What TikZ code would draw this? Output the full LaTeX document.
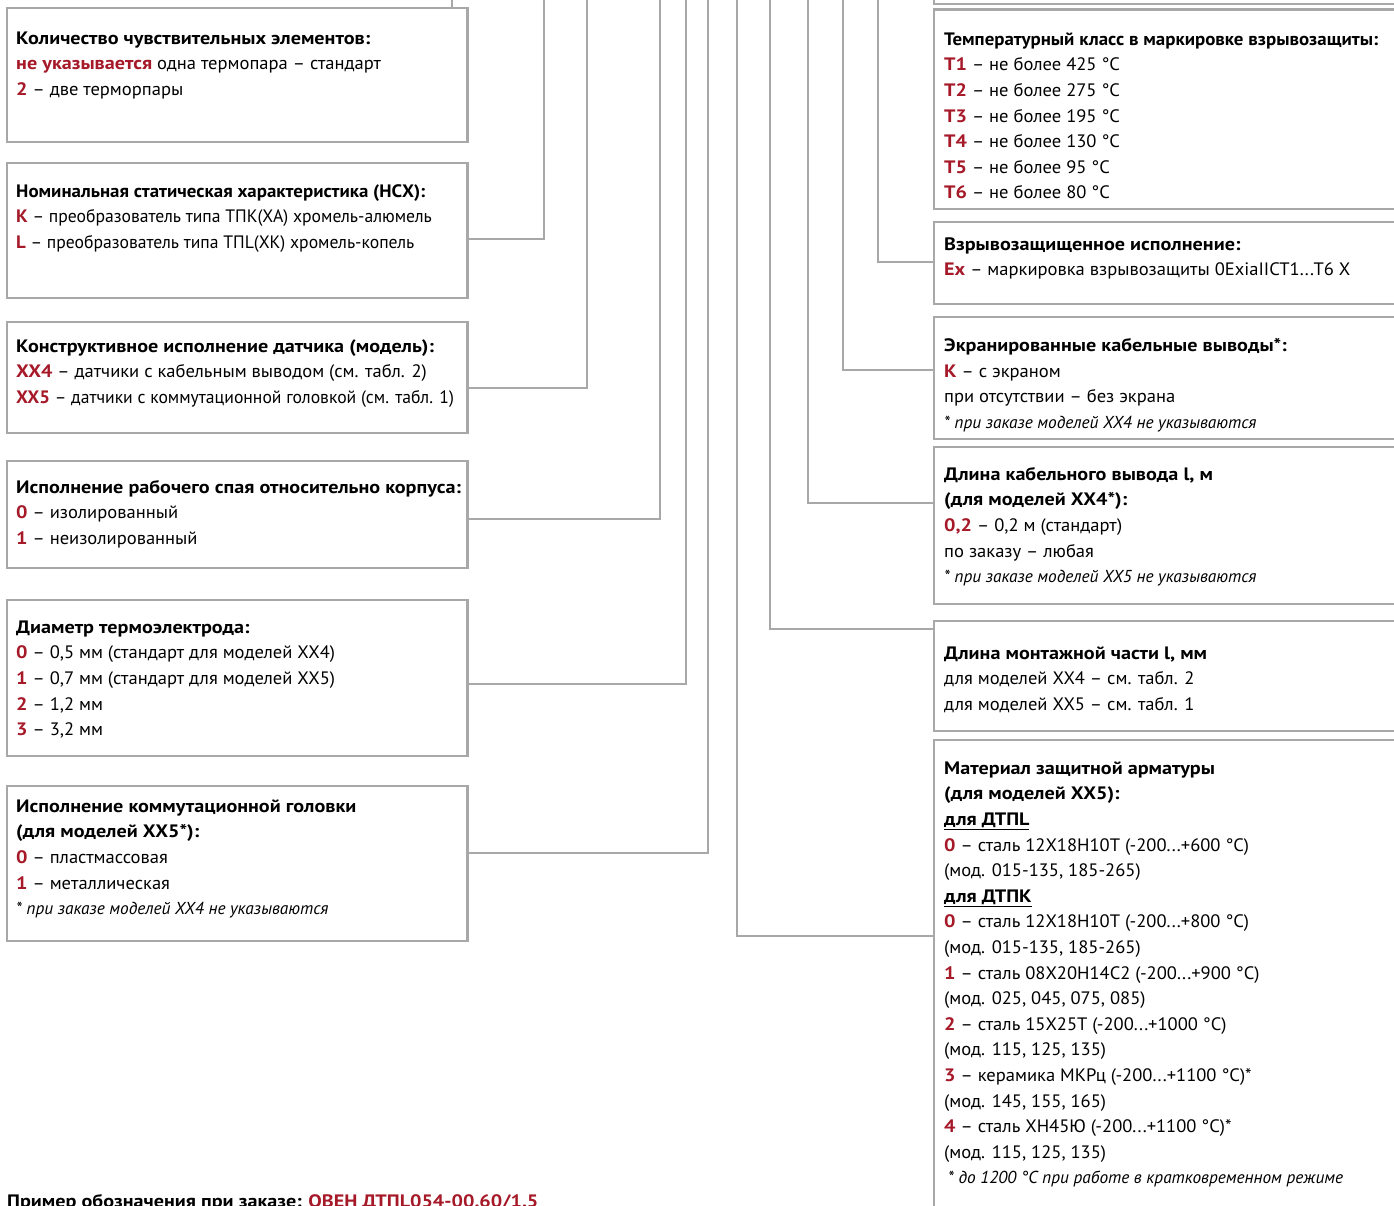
\documentclass[tikz,border=0pt]{standalone}
\usepackage{fontspec}
\setmainfont{PT Sans}[UprightFeatures={FakeStretch=1.03},
  BoldFeatures={FakeStretch=1.12}]
\newfontfamily\narrowfont{PT Sans}[UprightFeatures={FakeStretch=0.98},
  BoldFeatures={FakeStretch=1.05}]
\usetikzlibrary{positioning}

\definecolor{owenred}{RGB}{166,25,40}
\definecolor{framegray}{RGB}{168,168,168}

\newcommand{\code}[1]{\textcolor{owenred}{\textbf{#1}}}
\newcommand{\hint}[1]{{\fontsize{17.3}{20}\selectfont\itshape #1}}

\begin{document}
\begin{tikzpicture}[
  x=1pt, y=-1pt,
  box/.style={draw=framegray, line width=2.6pt, anchor=north west,
              inner sep=0pt, outer sep=0pt},
  wire/.style={draw=framegray, line width=2.4pt},
  txt/.style={anchor=north west, inner sep=0pt, align=left,
              font=\fontsize{18}{25.6}\selectfont}
]
  \useasboundingbox (0,0) rectangle (1394,1206);
  \coordinate (top) at (0,-10);

  % left column
  \node[box, minimum width=460.5pt, minimum height=134pt] (b1) at (7,8) {};
  \node[box, minimum width=460.5pt, minimum height=135pt] (b2) at (7,163) {};
  \node[box, minimum width=460.5pt, minimum height=111pt] (b3) at (7,322) {};
  \node[box, minimum width=460.5pt, minimum height=107pt] (b4) at (7,461) {};
  \node[box, minimum width=460.5pt, minimum height=156pt] (b5) at (7,600) {};
  \node[box, minimum width=460.5pt, minimum height=155pt] (b6) at (7,786) {};

  % right column
  \node[box, minimum width=486pt, minimum height=44pt] (r0) at (934,-40) {};
  \node[box, minimum width=486pt, minimum height=199.5pt] (r1) at (934,9.5) {};
  \node[box, minimum width=486pt, minimum height=82pt] (r2) at (934,222) {};
  \node[box, minimum width=486pt, minimum height=122pt] (r3) at (934,317) {};
  \node[box, minimum width=486pt, minimum height=157pt] (r4) at (934,447) {};
  \node[box, minimum width=486pt, minimum height=110pt] (r5) at (934,621) {};
  \node[box, minimum width=486pt, minimum height=490pt] (r6) at (934,740) {};

  % connectors
  \coordinate (k1) at (452,0);
  \coordinate (k2) at (544,239);
  \coordinate (k3) at (587,388);
  \coordinate (k4) at (660,519);
  \coordinate (k5) at (686,684);
  \coordinate (k6) at (708,853);
  \coordinate (m2) at (878,262);
  \coordinate (m3) at (843,370);
  \coordinate (m4) at (808,503);
  \coordinate (m5) at (770,629);
  \coordinate (m6) at (737,936);

  \draw[wire] (k1 |- top) -- (k1 |- b1.north);
  \foreach \k/\b in {k2/b2, k3/b3, k4/b4, k5/b5, k6/b6}
    \draw[wire] (\k -| \b.east) -- (\k) -- (\k |- top);
  \foreach \m/\r in {m2/r2, m3/r3, m4/r4, m5/r5, m6/r6}
    \draw[wire] (\m -| \r.west) -- (\m) -- (\m |- top);

  % texts, left
  \node[txt] (t1) at (16,26.1) {\strut\textbf{Количество чувствительных элементов:}\\
    \code{не указывается} одна термопара – стандарт\\
    \code{2} – две терморпары};
  \node[txt] (t2) at (16,179.1) {\strut{\narrowfont\textbf{Номинальная статическая характеристика (НСХ):}}\\
    {\narrowfont\code{K} – преобразователь типа ТПК(ХА) хромель-алюмель}\\
    {\narrowfont\code{L} – преобразователь типа ТПL(ХК) хромель-копель}};
  \node[txt] (t3) at (16,334.1) {\strut\textbf{Конструктивное исполнение датчика (модель):}\\
    \code{XX4} – датчики с кабельным выводом (см. табл. 2)\\
    {\narrowfont\code{XX5} – датчики с коммутационной головкой (см. табл. 1)}};
  \node[txt] (t4) at (16,475.1) {\strut\textbf{Исполнение рабочего спая относительно корпуса:}\\
    \code{0} – изолированный\\
    \code{1} – неизолированный};
  \node[txt] (t5) at (16,615.1) {\strut\textbf{Диаметр термоэлектрода:}\\
    \code{0} – 0,5 мм (стандарт для моделей ХХ4)\\
    \code{1} – 0,7 мм (стандарт для моделей ХХ5)\\
    \code{2} – 1,2 мм\\
    \code{3} – 3,2 мм};
  \node[txt] (t6) at (16,794.1) {\strut\textbf{Исполнение коммутационной головки}\\
    \textbf{(для моделей ХХ5*):}\\
    \code{0} – пластмассовая\\
    \code{1} – металлическая\\
    \hint{* при заказе моделей ХХ4 не указываются}};

  % texts, right
  \node[txt] (s1) at (944,27.1) {\strut{\narrowfont\textbf{Температурный класс в маркировке взрывозащиты:}}\\
    \code{T1} – не более 425 °C\\
    \code{T2} – не более 275 °C\\
    \code{T3} – не более 195 °C\\
    \code{T4} – не более 130 °C\\
    \code{T5} – не более 95 °C\\
    \code{T6} – не более 80 °C};
  \node[txt] (s2) at (944,232.1) {\strut\textbf{Взрывозащищенное исполнение:}\\
    \code{Ex} – маркировка взрывозащиты 0ExiaIICT1...T6 X};
  \node[txt] (s3) at (944,333.6) {\strut\textbf{Экранированные кабельные выводы*:}\\
    \code{K} – с экраном\\
    при отсутствии – без экрана\\
    \hint{* при заказе моделей ХХ4 не указываются}};
  \node[txt] (s4) at (944,462.1) {\strut\textbf{Длина кабельного вывода l, м}\\
    \textbf{(для моделей ХХ4*):}\\
    \code{0,2} – 0,2 м (стандарт)\\
    по заказу – любая\\
    \hint{* при заказе моделей ХХ5 не указываются}};
  \node[txt] (s5) at (944,641.1) {\strut\textbf{Длина монтажной части l, мм}\\
    для моделей ХХ4 – см. табл. 2\\
    для моделей ХХ5 – см. табл. 1};
  \node[txt] (s6) at (944,756.1) {\strut\textbf{Материал защитной арматуры}\\
    \textbf{(для моделей ХХ5):}\\
    \underline{\textbf{для ДТПL}}\\
    \code{0} – сталь 12Х18Н10Т (-200...+600 °C)\\
    (мод. 015-135, 185-265)\\
    \underline{\textbf{для ДТПК}}\\
    \code{0} – сталь 12Х18Н10Т (-200...+800 °C)\\
    (мод. 015-135, 185-265)\\
    \code{1} – сталь 08Х20Н14С2 (-200...+900 °C)\\
    (мод. 025, 045, 075, 085)\\
    \code{2} – сталь 15Х25Т (-200...+1000 °C)\\
    (мод. 115, 125, 135)\\
    \code{3} – керамика МКРц (-200...+1100 °C)*\\
    (мод. 145, 155, 165)\\
    \code{4} – сталь ХН45Ю (-200...+1100 °C)*\\
    (мод. 115, 125, 135)\\
    \hspace{4pt}\hint{* до 1200 °C при работе в кратковременном режиме}};

  % order example
  \node[anchor=base west, inner sep=0pt, font=\fontsize{18}{25.6}\selectfont] (ex) at (7,1207)
    {\textbf{Пример обозначения при заказе:} \code{ОВЕН ДТПL054-00.60/1.5}};
\end{tikzpicture}
\end{document}
